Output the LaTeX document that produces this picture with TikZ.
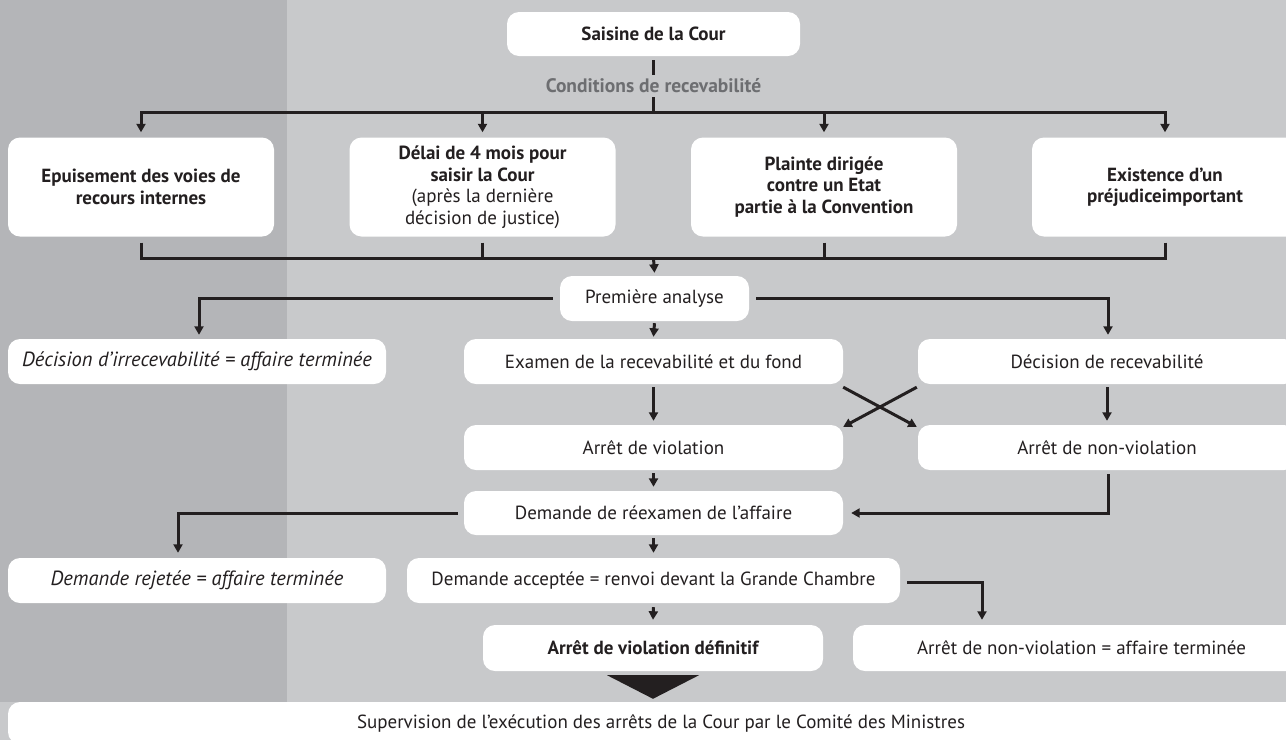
\documentclass[tikz,border=0pt]{standalone}
\usepackage{fontspec}
\setmainfont{PT Sans}
\usetikzlibrary{arrows.meta,positioning,calc}
\definecolor{bandDark}{HTML}{B4B5B8}
\definecolor{bandLight}{HTML}{C8C9CB}
\definecolor{inkLine}{HTML}{231F20}
\definecolor{condGrey}{HTML}{6D6E71}

\begin{document}
\begin{tikzpicture}[
  x=1pt, y=-1pt,
  box/.style={fill=white, rounded corners=12pt, inner sep=0pt, align=center,
              minimum height=45pt, text=inkLine,
              font=\fontsize{19}{21.5}\selectfont},
  cond/.style={box, minimum width=266pt, minimum height=99pt},
  endbox/.style={box, font=\itshape\fontsize{20.5}{23}\selectfont},
  boldbox/.style={box, font=\bfseries\fontsize{19}{21.5}\selectfont},
  ln/.style={draw=inkLine, line width=3pt},
  arr/.style={ln, -{Triangle[length=8.5pt, width=9pt]}},
  lbl/.style={font=\bfseries\fontsize{19.5}{22}\selectfont, text=condGrey, inner sep=4pt}
]
% --- Background bands ---
\clip (0,0) rectangle (1286,740);
\fill[bandLight] (0,0) rectangle (1286,740);
\fill[bandDark] (0,0) rectangle (287,702);

% --- Top: seizing the court ---
\node[boldbox, minimum width=293pt, minimum height=44pt] (saisine) at (653.5,34) {Saisine de la Cour};
\node[lbl] (recv) at (653.5,86) {Conditions de recevabilité};

% --- Admissibility conditions ---
\node[cond] (c1) at (141,187)
  {\textbf{Epuisement des voies de}\\ \textbf{recours internes}};
\node[cond] (c2) at (482.5,187)
  {\textbf{Délai de 4 mois pour}\\ \textbf{saisir la Cour}\\ (après la dernière\\ décision de justice)};
\node[cond] (c3) at (824,187)
  {\textbf{Plainte dirigée}\\ \textbf{contre un Etat}\\ \textbf{partie à la Convention}};
\node[cond] (c4) at (1165,187)
  {\textbf{Existence d’un}\\ \textbf{préjudiceimportant}};

\coordinate (busTop) at (653.5,112);
\coordinate (busBot) at (653.5,258);

% --- First analysis and its outcomes ---
\node[box, minimum width=189pt] (premiere) at (654.5,298.5) {Première analyse};
\node[endbox, minimum width=378pt] (irrec) at (197,361.5) {Décision d’irrecevabilité = affaire terminée};
\node[box, minimum width=379pt] (examen) at (653.5,361.5) {Examen de la recevabilité et du fond};
\node[box, minimum width=378pt] (recev) at (1107,361.5) {Décision de recevabilité};
\node[box, minimum width=379pt] (violation) at (653.5,447.5) {Arrêt de violation};
\node[box, minimum width=378pt] (nonviol) at (1107,447.5) {Arrêt de non-violation};

% --- Referral ---
\node[box, minimum width=379pt, minimum height=44pt] (reexamen) at (653.5,513) {Demande de réexamen de l’affaire};
\node[endbox, minimum width=378pt] (rejetee) at (197,580.5) {Demande rejetée = affaire terminée};
\node[box, minimum width=493pt] (acceptee) at (653.5,580.5) {Demande acceptée = renvoi devant la Grande Chambre};
\node[boldbox, minimum width=340pt, minimum height=46pt] (definitif) at (653,648) {Arrêt de violation définitif};
\node[box, minimum width=457pt, minimum height=46pt] (nonvfin) at (1081.5,648) {Arrêt de non-violation = affaire terminée};

% --- Bottom: supervision ---
\node[box, minimum width=1306pt, minimum height=42pt] (supervision) at (661,723)
  {Supervision de l’exécution des arrêts de la Cour par le Comité des Ministres};

% --- Connectors: conditions ---
\draw[ln] ([yshift=-4pt]saisine.south) -- (recv.north);
\draw[ln] (recv.south) -- (busTop);
\foreach \i in {1,...,4}
  \draw[arr] (busTop) -| ([yshift=5pt]c\i.north);
\foreach \i in {1,...,4}
  \draw[ln] ([yshift=-6pt]c\i.south) |- (busBot);
\draw[arr] (busBot) -- ([yshift=3pt]premiere.north);

% --- Connectors: first analysis ---
\draw[arr] ([xshift=-7pt]premiere.west) -| ([xshift=2pt, yshift=4pt]irrec.north);
\draw[arr] ([xshift=7pt]premiere.east) -| ([xshift=1pt, yshift=4pt]recev.north);
\draw[arr] ([yshift=-2pt]premiere.south) -- ([yshift=2pt]examen.north);
\draw[arr] ([yshift=-3pt]examen.south) -- ([yshift=4pt]violation.north);
\draw[arr] ([yshift=-3pt]recev.south) -- ([yshift=4pt]nonviol.north);
\draw[arr] ([yshift=-3pt]examen.south east) -- ([xshift=-1pt, yshift=-2pt]nonviol.north west);
\draw[arr] ([xshift=-1pt, yshift=-3pt]recev.south west) -- ([yshift=-2pt]violation.north east);

% --- Connectors: referral ---
\draw[arr] ([yshift=-3pt]violation.south) -- ([yshift=4pt]reexamen.north);
\draw[arr] ([xshift=1pt, yshift=-4pt]nonviol.south) |- ([xshift=8pt]reexamen.east);
\draw[arr] ([xshift=-6pt]reexamen.west) -| ([xshift=-19pt, yshift=5pt]rejetee.north);
\draw[arr] ([yshift=-3pt]reexamen.south) -- ([yshift=5pt]acceptee.north);
\draw[arr] ([xshift=7pt, yshift=-2pt]acceptee.east) -| ([xshift=-99.5pt, yshift=5pt]nonvfin.north);
\draw[arr] ([yshift=-4pt]acceptee.south) -- ([yshift=5pt]definitif.north);

% --- Big arrow to supervision ---
\fill[inkLine] ([xshift=-46pt, yshift=-4pt]definitif.south)
  -- ([xshift=46pt, yshift=-4pt]definitif.south)
  -- ([yshift=3pt]definitif.south |- supervision.north) -- cycle;
\end{tikzpicture}
\end{document}
